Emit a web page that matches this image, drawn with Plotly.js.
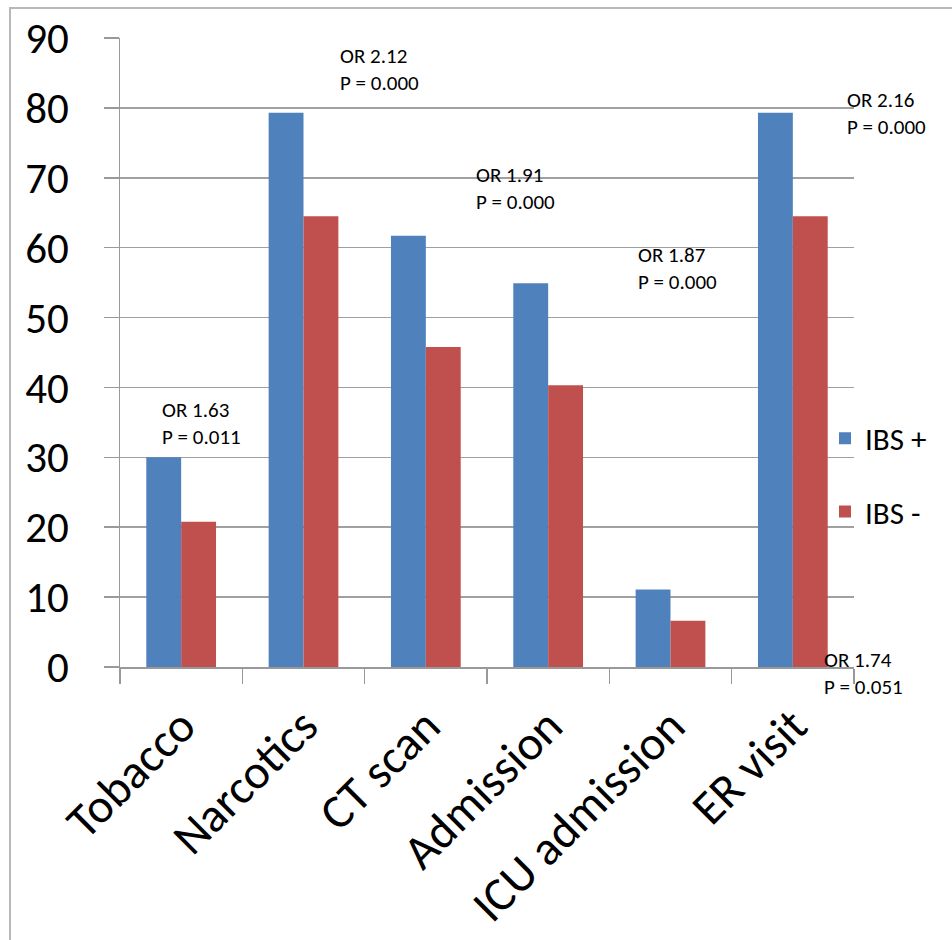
<!DOCTYPE html>
<html>
<head>
<meta charset="utf-8">
<script src="https://cdn.plot.ly/plotly-3.0.1.min.js"></script>
<style>
  html, body { margin: 0; padding: 0; background: #fff; overflow: hidden; }
  #frame { position: absolute; left: 9px; top: 7px; width: 1000px; height: 1000px;
           border-left: 2px solid #b8b8b8; border-top: 2px solid #b8b8b8; }
  #chart { position: absolute; left: 0; top: 0; width: 952px; height: 940px; }
</style>
</head>
<body>
<div id="frame"></div>
<div id="chart"></div>
<script>
// ---- data ----
const categories = ["Tobacco", "Narcotics", "CT scan", "Admission", "ICU admission", "ER visit"];
const ibsPlus  = [30.0, 79.3, 61.7, 54.9, 11.1, 79.3];
const ibsMinus = [20.8, 64.5, 45.8, 40.3, 6.6, 64.5];
const seriesNames = ["IBS +", "IBS -"];
const yTicks = [0, 10, 20, 30, 40, 50, 60, 70, 80, 90];
// odds-ratio notes: text, category index they sit near, value level
const noteTexts = ["OR 1.63<br>P = 0.011", "OR 2.12<br>P = 0.000", "OR 1.91<br>P = 0.000",
                   "OR 1.87<br>P = 0.000", "OR 2.16<br>P = 0.000", "OR 1.74<br>P = 0.051"];
const noteCat   = [0, 1, 2, 3, 5, 5];
const noteLevel = [34.8, 85.5, 68.5, 57.0, 79.2, 0];

// ---- styling / layout ----
const FONT = "Carlito, Lato, 'Noto Sans', sans-serif";
const noteDx = [-0.17, 0.28, 0.39, 0.72, 0.43, 0.24];
const noteYShift = [0, 0, 0, 0, 0, -6];

const traces = [
  { type: "bar", name: seriesNames[0], x: categories, y: ibsPlus,
    marker: { color: "#4F81BD" }, legendgroup: "a" },
  { type: "bar", name: seriesNames[1], x: categories, y: ibsMinus,
    marker: { color: "#C0504D" }, legendgroup: "b" }
];

const annotations = noteTexts.map((t, i) => ({
  text: t, xref: "x", yref: "y",
  x: noteCat[i] + noteDx[i], y: noteLevel[i], yshift: noteYShift[i],
  xanchor: "left", yanchor: "middle", align: "left", showarrow: false,
  font: { family: FONT, size: 21, color: "#000" }
}));

const layout = {
  width: 952, height: 940,
  margin: { l: 120, r: 98, t: 38, b: 273, pad: 0 },
  paper_bgcolor: "rgba(0,0,0,0)", plot_bgcolor: "rgba(0,0,0,0)",
  barmode: "group", bargap: 0.43, bargroupgap: 0,
  font: { family: FONT, color: "#000" },
  xaxis: {
    type: "category", range: [-0.5, categories.length - 0.5], autorange: false,
    tickson: "boundaries",
    ticks: "outside", ticklen: 15, tickwidth: 1.5, tickcolor: "#999",
    showline: true, linecolor: "#999", linewidth: 1.5,
    tickangle: -45, tickfont: { family: FONT, size: 48, color: "#000" },
    ticklabelstandoff: 10, showgrid: false
  },
  yaxis: {
    range: [0, 90], autorange: false, tickvals: yTicks, ticktext: yTicks.map(String),
    ticks: "outside", ticklen: 15, tickwidth: 1.5, tickcolor: "#999",
    showline: true, linecolor: "#999", linewidth: 1.5,
    showgrid: true, gridcolor: "#a0a0a0", gridwidth: 1.5, zeroline: false,
    tickfont: { family: FONT, size: 43, color: "#000" },
    ticklabelstandoff: 26
  },
  showlegend: true,
  legend: {
    x: 0.9605, xanchor: "left", y: 0.305, yanchor: "middle",
    traceorder: "grouped", tracegroupgap: 30,
    font: { family: FONT, size: 31, color: "#000" },
    bgcolor: "rgba(0,0,0,0)"
  },
  annotations: annotations
};

Plotly.newPlot("chart", traces, layout, { displayModeBar: false, staticPlot: true });
</script>
</body>
</html>
